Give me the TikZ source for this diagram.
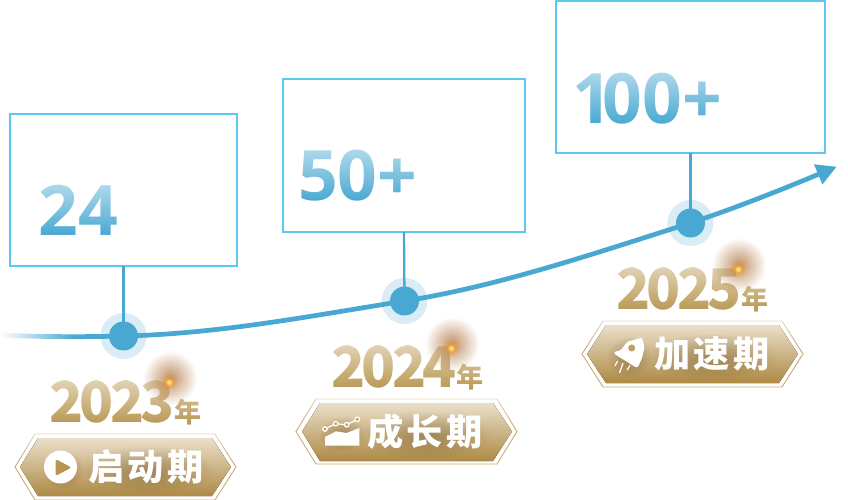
\documentclass[tikz,border=0pt]{standalone}
\usepackage{fontspec}
\usetikzlibrary{arrows.meta,fadings}
\newfontfamily\numfont{Open Sans}
\newfontfamily\yearfont[LetterSpace=-6.5]{Noto Sans CJK SC}
\newfontfamily\labelfont[LetterSpace=9]{Noto Sans CJK SC}
\definecolor{lineblue}{HTML}{48A8D2}
\definecolor{haloblue}{HTML}{DAECF5}
\definecolor{boxblue}{HTML}{5CC8F0}
\definecolor{goldtext}{HTML}{B8964F}
\definecolor{goldedge}{HTML}{C9A96E}
\definecolor{goldtop}{HTML}{EADFCA}
\definecolor{goldmid}{HTML}{BE9F66}
\definecolor{goldlow}{HTML}{AE8A44}
\definecolor{glowbrown}{HTML}{A8652A}
\definecolor{sparkorange}{HTML}{FF9A10}
\definecolor{sparkcore}{HTML}{FFF2A0}
\definecolor{shadowbrown}{HTML}{5A3F12}
\tikzfading[name=fadedown,top color=transparent!43,bottom color=transparent!100]
\tikzfading[name=fadeside,top color=transparent!100,middle color=transparent!15,bottom color=transparent!100]
\tikzfading[name=fadeleft,left color=transparent!0,right color=transparent!100]
\tikzfading[name=fuzzy,inner color=transparent!0,outer color=transparent!100]
\newcommand{\nian}{{\fontsize{15.4}{16}\selectfont 年}}

\begin{document}
\begin{tikzpicture}[x=0.02cm,y=0.02cm,
    statbox/.style={draw=boxblue,line width=1.1pt,rectangle},
    stattext/.style={anchor=base west,text=lineblue,font=\numfont\bfseries\fontsize{39.6}{41}\selectfont},
    yeartext/.style={anchor=base west,text=goldtext,font=\yearfont\bfseries\fontsize{31.9}{33}\selectfont},
    badgetext/.style={text=white,font=\labelfont\bfseries\fontsize{20.6}{21}\selectfont},
    badgeedge/.style={draw=goldedge,line width=0.5pt},
    badgefill/.style={top color=goldtop,middle color=goldmid,bottom color=goldlow},
    halo/.style={circle,fill=haloblue,minimum size=26.2pt},
    dot/.style={circle,fill=lineblue,minimum size=16.5pt},
    stem/.style={draw=lineblue,line width=1.3pt},
    curve/.style={draw=lineblue,line width=2.7pt,-{Triangle[length=11.4pt,width=11.6pt]}},
    txtfade/.style={fill=white,path fading=fadedown},
    sidefade/.style={fill=white,path fading=fadeside},
    glow/.style={fill=glowbrown,path fading=fuzzy,opacity=0.72},
    spark/.style={fill=sparkorange,path fading=fuzzy},
    core/.style={fill=sparkcore,path fading=fuzzy},
    soft/.style={fill=shadowbrown,path fading=fuzzy,opacity=0.36}]
        \tikzstyle{every node}+=[inner sep=0pt,outer sep=0pt]
        \useasboundingbox (0,0) rectangle (848,-500);
        % stat boxes
        \node (box1) [statbox,minimum width=129.2pt,minimum height=86.5pt] at (123.5,-190) {};
        \node (box2) [statbox,minimum width=137.7pt,minimum height=87.1pt] at (404,-155.5) {};
        \node (box3) [statbox,minimum width=153.1pt,minimum height=86.5pt] at (690.5,-77) {};
        \fill [sidefade] (8,-125) rectangle (12,-262);
        \fill [sidefade] (235,-125) rectangle (239,-262);
        \fill [sidefade] (281,-90) rectangle (285,-228);
        \fill [sidefade] (523,-90) rectangle (527,-228);
        \fill [sidefade] (554,-12) rectangle (558,-148);
        \fill [sidefade] (823,-12) rectangle (827,-148);
        \node (num1) [stattext] at (38.5,-235) {24};
        \node (num2) [stattext] at (298,-200) {50+};
        \node (num3) [stattext] at (572,-123) {1\kern-5pt 00+};
        \fill [txtfade] (36,-184) rectangle (122,-236);
        \fill [txtfade] (296,-149) rectangle (420,-202);
        \fill [txtfade] (573,-71) rectangle (724,-125);
        % timeline
        \node (halo1) [halo] at (123.5,-336) {};
        \node (halo2) [halo] at (404.5,-301) {};
        \node (halo3) [halo] at (690.5,-223) {};
        \coordinate (start) at (0,-335);
        \coordinate (tip) at (836.7,-166.7);
        \draw [curve] (start) .. controls (40,-337) and (85,-337) .. (halo1.center)
            .. controls (217.5,-334) and (310.5,-316) .. (halo2.center)
            .. controls (499.5,-286) and (595.5,-253) .. (halo3.center)
            .. controls (738.5,-207) and (788,-187) .. (tip);
        \fill [white,path fading=fadeleft] (0,-330) rectangle (75,-342);
        \draw [stem] (box1.south) -- (halo1.center);
        \draw [stem] (box2.south) -- (halo2.center);
        \draw [stem] (box3.south) -- (halo3.center);
        \node (dot1) [dot] at (halo1) {};
        \node (dot2) [dot] at (halo2) {};
        \node (dot3) [dot] at (halo3) {};
        % years
        \node (year1) [yeartext] at (49,-422) {2023\nian};
        \node (year2) [yeartext] at (331,-387) {2024\nian};
        \node (year3) [yeartext] at (616,-309) {2025\nian};
        \fill [txtfade] (48,-381) rectangle (204,-426);
        \fill [txtfade] (330,-346) rectangle (486,-391);
        \fill [txtfade] (615,-268) rectangle (771,-313);
        \fill [glow] (143,-351) rectangle (197,-405);
        \fill [glow] (425,-317) rectangle (479,-371);
        \fill [glow] (712,-238) rectangle (766,-292);
        \fill [spark] (161,-374) rectangle (177,-390);
        \fill [spark] (443,-340) rectangle (459,-356);
        \fill [spark] (730,-261) rectangle (746,-277);
        \fill [core] (165,-378) rectangle (173,-386);
        \fill [core] (447,-344) rectangle (455,-352);
        \fill [core] (734,-265) rectangle (742,-273);
        % badge one
        \draw [badgeedge] (15,-467) -- (35,-434) -- (215,-434) -- (236,-467) -- (215,-500) -- (35,-500) -- cycle;
        \fill [txtfade] (10,-432) rectangle (240,-460);
        \fill [badgefill] (20,-467) -- (38,-438) -- (212,-438) -- (231,-467) -- (212,-496) -- (38,-496) -- cycle;
        \fill [soft] (80,-446) rectangle (214,-494);
        \fill [soft] (42,-450) rectangle (84,-490);
        \fill [white] (60.5,-467) circle (16.5);
        \fill [goldtext,rounded corners=1pt] (55.5,-459) -- (71.5,-467.5) -- (55.5,-476) -- cycle;
        \node (label1) [badgetext] at (146,-467) {启动期};
        % badge two
        \draw [badgeedge] (296,-431.5) -- (316,-399) -- (497,-399) -- (517,-431.5) -- (497,-464) -- (316,-464) -- cycle;
        \fill [txtfade] (291,-397) rectangle (522,-425);
        \fill [badgefill] (302,-431.5) -- (320,-403) -- (493,-403) -- (512,-431.5) -- (493,-461) -- (320,-461) -- cycle;
        \fill [soft] (360,-411) rectangle (492,-459);
        \fill [soft] (318,-416) rectangle (366,-452);
        \fill [white] (325,-445.5) -- (325,-437) -- (336,-431.3) -- (346.7,-433) -- (359.3,-428) -- (359.3,-445.5) -- cycle;
        \draw [white,line width=0.7pt] (325,-429) -- (335.7,-423.7) -- (346.7,-424.7) -- (357.3,-419.3);
        \filldraw [draw=white,fill=goldmid,line width=0.7pt] (325,-429) circle (2.2);
        \filldraw [draw=white,fill=goldmid,line width=0.7pt] (335.7,-423.7) circle (2.2);
        \filldraw [draw=white,fill=goldmid,line width=0.7pt] (346.7,-424.7) circle (2.2);
        \filldraw [draw=white,fill=goldmid,line width=0.7pt] (357.3,-419.3) circle (2.2);
        \node (label2) [badgetext] at (425,-431.5) {成长期};
        % badge three
        \draw [badgeedge] (582,-354) -- (603,-321) -- (782,-321) -- (803,-354) -- (782,-387) -- (603,-387) -- cycle;
        \fill [txtfade] (577,-319) rectangle (808,-347);
        \fill [badgefill] (587,-354) -- (606,-325) -- (779,-325) -- (798,-354) -- (779,-383) -- (606,-383) -- cycle;
        \fill [soft] (646,-333) rectangle (778,-381);
        \fill [soft] (606,-336) rectangle (652,-378);
        \fill [white,rounded corners=0.8pt] (642,-337.5) -- (627,-342) -- (621,-350) -- (614,-352) -- (614.5,-354) -- (636,-367.5) -- (638,-367) -- (642,-358) -- (644.5,-347) -- cycle;
        \fill [goldmid] (631.7,-348) circle (3.5);
        \draw [white,line width=0.7pt] (617.5,-361) -- (615,-366);
        \draw [white,line width=0.7pt] (623,-363) -- (619.5,-373);
        \draw [white,line width=0.7pt] (630,-365.5) -- (627,-370);
        \node (label3) [badgetext] at (712,-354) {加速期};
      \end{tikzpicture}
\end{document}
